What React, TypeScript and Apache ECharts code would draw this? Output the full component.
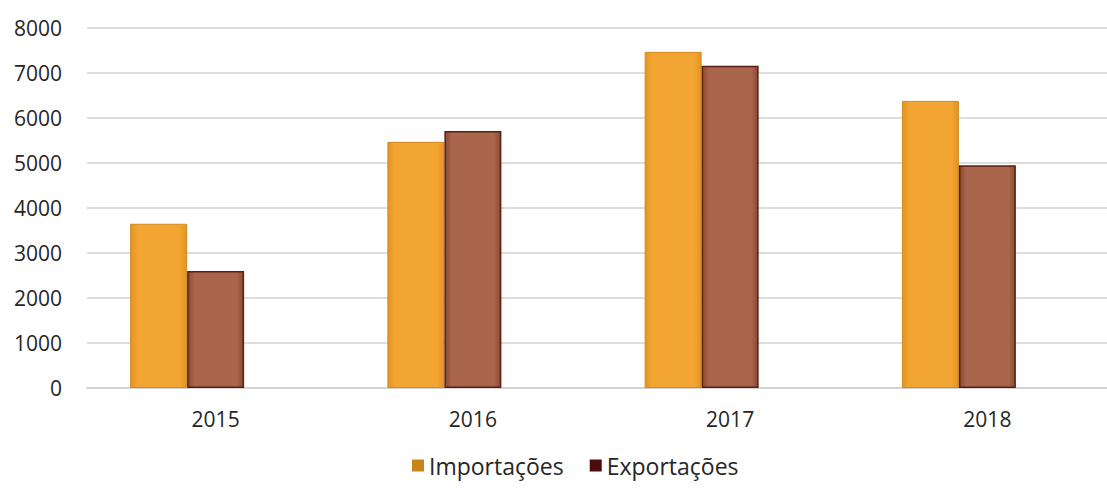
import React, { useEffect, useRef } from "react";
import * as echarts from "echarts";

const categories = ["2015", "2016", "2017", "2018"];
const importacoes = [3650, 5470, 7470, 6380];
const exportacoes = [2600, 5710, 7160, 4950];
const placeholder = [null, null, null, null];
const yTicks = { min: 0, max: 8000, interval: 1000 };

export default function App() {
  const ref = useRef<HTMLDivElement>(null);
  useEffect(() => {
    if (!ref.current) return;
    const chart = echarts.init(ref.current, null, { renderer: "svg" });
    const font = "'Open Sans', 'Lato', sans-serif";
    const hGrad = (edge: string, mid: string) =>
      new echarts.graphic.LinearGradient(0, 0, 1, 0, [
        { offset: 0, color: edge },
        { offset: 0.12, color: mid },
        { offset: 0.88, color: mid },
        { offset: 1, color: edge },
      ]);
    chart.setOption({
      animation: false,
      backgroundColor: "#ffffff",
      grid: { left: 87, right: 9, top: 28, bottom: 104, containLabel: false },
      legend: {
        bottom: 10,
        left: 407,
        itemWidth: 12,
        itemHeight: 12,
        itemGap: 26,
        icon: "rect",
        textStyle: { fontFamily: font, fontSize: 23, color: "#262626" },
        data: [
          { name: "Importações", itemStyle: { color: "#c98419", borderWidth: 0 } },
          { name: "Exportações", itemStyle: { color: "#4b0c0c", borderWidth: 0 } },
        ],
      },
      xAxis: {
        type: "category",
        data: categories,
        axisTick: { show: false },
        axisLine: { show: true, lineStyle: { color: "#cfcfcf", width: 1.5 } },
        axisLabel: { fontFamily: font, fontSize: 21, color: "#262626", margin: 20 },
      },
      yAxis: {
        type: "value",
        min: yTicks.min,
        max: yTicks.max,
        interval: yTicks.interval,
        axisLine: { show: false },
        axisTick: { show: false },
        splitLine: { lineStyle: { color: "#d2d2d2", width: 1.5 } },
        axisLabel: {
          fontFamily: font,
          fontSize: 21,
          color: "#262626",
          margin: 25,
          formatter: (v: number) => String(v),
        },
      },
      series: [
        {
          name: "Importações",
          type: "bar",
          data: importacoes,
          barWidth: 57,
          barGap: "0%",
          itemStyle: {
            color: hGrad("#e39424", "#f2a533"),
            borderColor: "#d28a1f",
            borderWidth: 1,
          },
        },
        {
          name: "Exportações",
          type: "bar",
          data: exportacoes,
          barWidth: 57,
          barGap: "0%",
          itemStyle: {
            color: hGrad("#8a4a33", "#a9664c"),
            borderColor: "#5a1f12",
            borderWidth: 1.5,
          },
        },
        {
          name: "placeholder",
          type: "bar",
          data: placeholder,
          barWidth: 57,
          barGap: "0%",
          itemStyle: { color: "transparent" },
        },
      ],
    });
    return () => chart.dispose();
  }, []);
  return (
    <div
      ref={ref}
      style={{ position: "fixed", left: 0, top: 0, width: 1125, height: 492 }}
    />
  );
}
